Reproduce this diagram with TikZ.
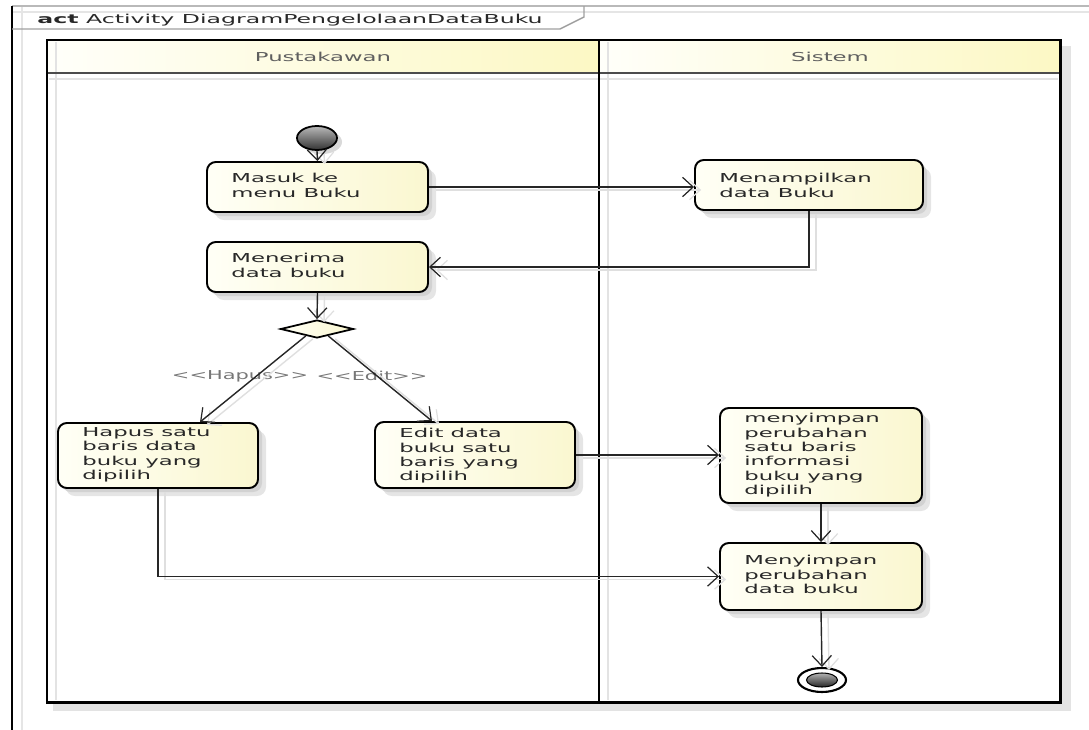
\documentclass[tikz,border=0pt]{standalone}
\usepackage{fontspec}
\setmainfont{DejaVu Sans}[FakeStretch=1.85]
\newfontfamily\gfont{DejaVu Sans}[FakeStretch=1.7]
\newfontfamily\tfont{DejaVu Sans}[FakeStretch=1.92]
\usetikzlibrary{arrows.meta,fit,calc,shapes.geometric}
\definecolor{boxL}{RGB}{255,255,246}
\definecolor{boxR}{RGB}{250,247,208}
\definecolor{hdrL}{RGB}{255,255,250}
\definecolor{hdrR}{RGB}{252,248,196}
\definecolor{txt}{RGB}{40,40,40}
\definecolor{lbl}{RGB}{95,95,95}
\tikzset{
  actbox/.style={draw=black, line width=1.1pt, rounded corners=5pt, left color=boxL, right color=boxR, inner sep=0pt},
  acttext/.style={anchor=north west, inner sep=0pt, align=left, text=txt, font=\fontsize{7}{8.2}\selectfont, execute at begin node=\rule{0pt}{5.6pt}},
  lanetitle/.style={inner sep=0pt, text=lbl, font=\fontsize{7}{8.2}\selectfont},
  guard/.style={inner sep=0pt, text=lbl!85, font=\gfont\fontsize{7}{8.2}\selectfont},
  flow/.style={draw=black!85, line width=0.8pt, -{Straight Barb[length=6pt,width=11pt,line width=0.7pt]}},
  flowshadow/.style={draw=gray!25, line width=0.8pt, transform canvas={shift={(4pt,-1.7pt)}}, -{Straight Barb[length=6pt,width=11pt,line width=0.7pt]}},
}
\newcommand\activity[7]{%
  \fill[gray!20, rounded corners=5pt] ($(#2,#3)+(8,8)$) rectangle ($(#4,#5)+(8,8)$);
  \fill[gray!35, rounded corners=5pt] ($(#2,#3)+(4,4)$) rectangle ($(#4,#5)+(4,4)$);
  \node[actbox, fit={(#2,#3) (#4,#5)}] (#1) {};
  \node[acttext] (#1-t) at ($(#1.north west)+(25,#6)$) {#7};
}
\newcommand\conn[1]{\draw[flowshadow] #1; \draw[flow] #1;}
\begin{document}
\begin{tikzpicture}[x=0.02cm,y=-0.02cm]
\useasboundingbox (0,0) rectangle (1089,730);
% outer frame
\draw[gray!20, line width=0.8pt] (22,6) -- (22,730);
\draw[gray!55, line width=0.8pt] (12,6) -- (1089,6);
\draw[gray!20, line width=0.8pt] (12,12) -- (1089,12);
\draw[black, line width=0.8pt] (12,6) -- (12,730);
\draw[gray!75, line width=0.8pt] (12,29) -- (560,29) -- (584,17) -- (584,6);
\node[anchor=base west, inner sep=0pt, text=txt, font=\tfont\fontsize{7}{8.2}\selectfont] (title) at (37,23) {\textbf{act} Activity DiagramPengelolaanDataBuku};
% swimlanes
\fill[gray!22] (1061,46) rectangle (1071,711);
\fill[gray!22] (53,703) rectangle (1071,711);
\shade[left color=hdrL, right color=hdrR] (47,40) rectangle (599,73);
\shade[left color=hdrL, right color=hdrR] (599,40) rectangle (1060,73);
\draw[gray!22, line width=1pt] (56,42) -- (56,700);
\draw[gray!22, line width=1pt] (608,42) -- (608,700);
\draw[gray!22, line width=1pt] (49,79) -- (1058,79);
\draw[black!70, line width=1.3pt] (47,73) -- (1060,73);
\draw[black, line width=1.7pt] (47,40) rectangle (1060,702);
\draw[black, line width=1.7pt] (599,40) -- (599,702);
\node[lanetitle] (pust) at (323,57) {Pustakawan};
\node[lanetitle] (sis) at (830,57) {Sistem};
% start / end
\fill[gray!30] (322,142) ellipse [x radius=20, y radius=12];
\node[draw=black, line width=1pt, ellipse, minimum width=0.8cm, minimum height=0.48cm, inner sep=0pt, top color=gray!55, bottom color=black!80] (start) at (317,138) {};
\node[draw=black, line width=1.2pt, ellipse, minimum width=0.96cm, minimum height=0.48cm, inner sep=0pt, fill=white] (final) at (822,680) {};
\node[draw=black, line width=0.6pt, ellipse, minimum width=0.62cm, minimum height=0.28cm, inner sep=0pt, top color=gray!60, bottom color=black!85] (finalin) at (822,680) {};
% activities
\activity{masuk}{207}{162}{428}{212}{12}{Masuk ke\\menu Buku}
\activity{tampil}{695}{160}{923}{210}{14}{Menampilkan\\data Buku}
\activity{terima}{207}{242}{428}{292}{12}{Menerima\\data buku}
\activity{hapus}{58}{423}{258}{488}{5}{Hapus satu\\baris data\\buku yang\\dipilih}
\activity{edit}{375}{422}{575}{488}{7}{Edit data\\buku satu\\baris yang\\dipilih}
\activity{simpan1}{720}{408}{922}{503}{6}{menyimpan\\perubahan\\satu baris\\informasi\\buku yang\\dipilih}
\activity{simpan2}{720}{543}{922}{610}{13}{Menyimpan\\perubahan\\data buku}
% decision
\node[draw=black, line width=1pt, diamond, minimum width=1.46cm, minimum height=0.36cm, inner sep=0pt, left color=boxL, right color=boxR] (dec) at (317,329) {};
% guards
\node[guard] (gh) at (240,376) {{<}{<}Hapus{>}{>}};
\node[guard] (ge) at (372,376) {{<}{<}Edit{>}{>}};
% connectors
\conn{(start.south) -- (masuk.north)}
\conn{(masuk.east) -- (masuk.east -| tampil.west)}
\conn{(tampil.south) |- (terima.east)}
\conn{(terima.south) -- (dec.north)}
\conn{($(dec.south)!0.3!(dec.west)$) -- ($(hapus.north)+(42,0)$)}
\conn{($(dec.south)!0.3!(dec.east)$) -- ($(edit.north)+(-43,0)$)}
\conn{(edit.east) -- (edit.east -| simpan1.west)}
\conn{(hapus.south) |- (simpan2.west)}
\conn{(simpan1.south) -- (simpan2.north)}
\conn{(simpan2.south) -- (final.north)}
\end{tikzpicture}
\end{document}
